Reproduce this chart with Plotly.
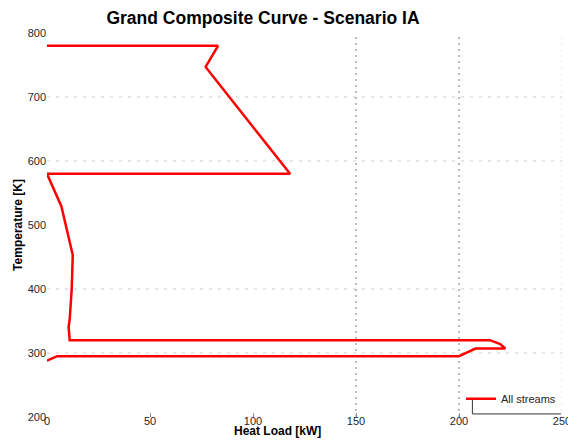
import plotly.graph_objects as go

# Grand composite curve (heat load in kW, temperature in K)
heat_load = [0, 83, 77, 118, 0, 7, 12.5, 12, 11, 10.5, 11, 215, 220, 222.5, 208, 200, 5, 0]
temperature = [780, 780, 747, 580, 580, 529, 453, 400, 352, 341, 320, 320, 314, 307, 307, 295, 295, 288]

x_ticks = [0, 50, 100, 150, 200, 250]
y_ticks = [200, 300, 400, 500, 600, 700, 800]
h_grid = [300, 400, 600, 700]
v_grid = [150, 200, 250]

W, H = 568, 432

fig = go.Figure()
fig.add_trace(go.Scatter(
    x=heat_load, y=temperature, mode="lines", name="All streams",
    line=dict(color="#ff0000", width=2.5), cliponaxis=False,
))

shapes = []
for yv in h_grid:
    shapes.append(dict(type="line", xref="paper", yref="y", x0=0, x1=1, y0=yv, y1=yv,
                       line=dict(color="#cfcfcf", width=1, dash="3px,6px"), layer="below"))
for xv in v_grid:
    shapes.append(dict(type="line", xref="x", yref="paper", x0=xv, x1=xv, y0=0, y1=1,
                       line=dict(color="#9a9a9a" if xv < 250 else "#dedede", width=1.3, dash="2px,4px"),
                       layer="below"))
# legend box partial border (left + bottom)
shapes.append(dict(type="line", xref="paper", yref="paper", x0=0.826, x1=0.826, y0=0.008, y1=0.05,
                   line=dict(color="#333333", width=1)))
shapes.append(dict(type="line", xref="paper", yref="paper", x0=0.826, x1=0.998, y0=0.008, y1=0.008,
                   line=dict(color="#333333", width=1)))

fig.update_layout(
    width=W, height=H,
    margin=dict(l=39, r=14, t=25, b=23),
    paper_bgcolor="white", plot_bgcolor="white",
    font=dict(family="Liberation Sans, Arial, sans-serif", size=11, color="#262626"),
    title=dict(text="<b>Grand Composite Curve - Scenario IA</b>", x=255 / W,
               xanchor="center", y=1 - 10 / H, yanchor="middle", font=dict(size=17.5, color="#000000")),
    xaxis=dict(range=[0, 250], tickvals=x_ticks, showgrid=False, zeroline=False,
               showline=False, ticks="inside", ticklen=4, tickcolor="#8a8a8a", tickwidth=1,
               ticklabelstandoff=-4, tickfont=dict(size=11), automargin=False),
    yaxis=dict(range=[200, 800], tickvals=y_ticks, showgrid=False, zeroline=False,
               showline=False, ticks="", tickfont=dict(size=11), automargin=False,
               title=dict(text="<b>Temperature [K]</b>", standoff=2, font=dict(size=12, color="#000000"))),
    showlegend=True,
    legend=dict(x=0.998, xanchor="right", y=0.01, yanchor="bottom",
                bgcolor="rgba(255,255,255,0)", borderwidth=0, font=dict(size=11, color="#262626"),
                tracegroupgap=0),
    annotations=[dict(text="<b>Heat Load [kW]</b>", xref="paper", yref="paper",
                      x=(269 - 39) / (W - 39 - 14), y=0,
                      xanchor="center", yanchor="bottom", yshift=-23, showarrow=False,
                      font=dict(size=12, color="#000000"))],
    shapes=shapes,
)

fig.write_html("out.html")
